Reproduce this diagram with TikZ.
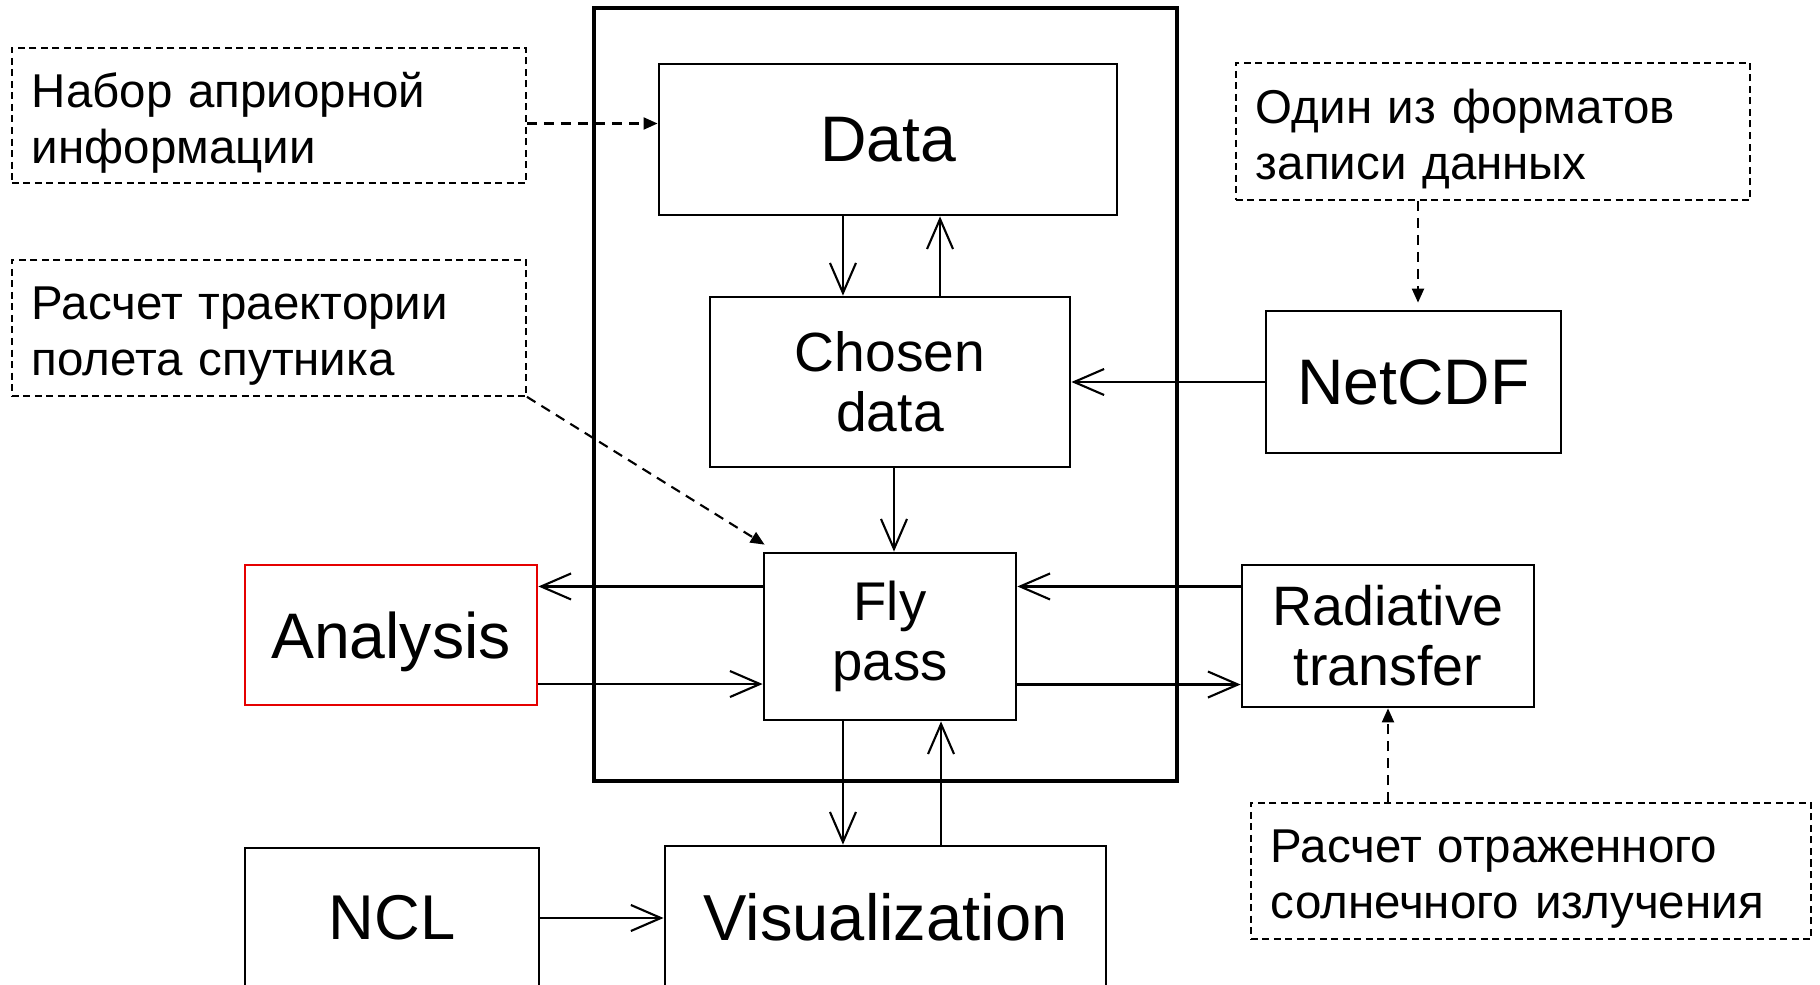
\documentclass[tikz,border=0pt]{standalone}
\usepackage{fontspec}
\setmainfont{Liberation Sans}
\usetikzlibrary{arrows.meta,positioning,calc}

\begin{document}
\begin{tikzpicture}[
  x=0.01cm, y=-0.01cm,
  >={Straight Barb[length=3mm,width=2.6mm]},
  blk/.style={rectangle, draw=black, line width=0.75pt, align=center, inner sep=0pt},
  redblk/.style={blk, draw=red!90!black},
  frame/.style={rectangle, draw=black, line width=1.1pt, inner sep=0pt},
  note/.style={rectangle, draw=black, line width=0.45pt, dash pattern=on 0.7mm off 0.45mm,
               align=left, inner xsep=0.2cm, inner ysep=0pt,
               font=\fontsize{13.5}{16}\selectfont,
               execute at begin node=\rule{0pt}{14pt}},
  edge/.style={->, draw=black, line width=0.6pt},
  nedge/.style={-{Triangle[length=1.4mm,width=1.2mm]}, draw=black, line width=0.6pt,
                dash pattern=on 1mm off 0.7mm},
]
\useasboundingbox (0,0) rectangle (1820,985);
\clip (0,0) rectangle (1820,985);

\node[frame, minimum width=5.83cm, minimum height=7.73cm] (frame) at (885.5,394.5) {};

\node[blk, minimum width=4.58cm, minimum height=1.51cm, font=\fontsize{18.3}{22}\selectfont]
  (data) at (888,139.5) {Data};
\node[blk, minimum width=3.6cm, minimum height=1.7cm, font=\fontsize{15.7}{17}\selectfont]
  (chosen) at (890,382) {Chosen\\data};
\node[blk, minimum width=2.95cm, minimum height=1.42cm, font=\fontsize{18.3}{22}\selectfont]
  (netcdf) at (1413.5,382) {NetCDF};
\node[blk, minimum width=2.52cm, minimum height=1.67cm, font=\fontsize{15.5}{17}\selectfont]
  (fly) at (890,636.5) {Fly\\pass};
\node[redblk, minimum width=2.92cm, minimum height=1.4cm, text depth=0pt,
  font=\fontsize{18.3}{22}\selectfont] (analysis) at (391,635) {Analysis};
\node[blk, minimum width=2.92cm, minimum height=1.42cm, font=\fontsize{15.8}{17}\selectfont]
  (radiative) at (1388,636) {Radiative\\transfer};
\node[blk, minimum width=2.94cm, minimum height=1.4cm, font=\fontsize{18}{22}\selectfont]
  (ncl) at (392,918) {NCL};
\node[blk, minimum width=4.41cm, minimum height=1.42cm, font=\fontsize{18.5}{22}\selectfont]
  (vis) at (885.5,917) {Visualization};

% notes
\node[note, text width=4.74cm, minimum height=1.35cm] (apriori) at (269,115.5)
  {Набор априорной\\информации};
\node[note, text width=4.74cm, minimum height=1.36cm] (orbit) at (269,328)
  {Расчет траектории\\полета спутника};
\node[note, text width=4.74cm, minimum height=1.37cm] (format) at (1493,131.5)
  {Один из форматов\\записи данных};
\node[note, text width=5.2cm, minimum height=1.36cm] (solar) at (1531,871)
  {Расчет отраженного\\солнечного излучения};

\draw[edge] ([xshift=-0.45cm]data.south) -- ([xshift=-0.45cm]data.south |- chosen.north);
\draw[edge] ([xshift=0.52cm]data.south |- chosen.north) -- ([xshift=0.52cm]data.south);
\draw[edge] (netcdf.west) -- (chosen.east);
\draw[edge] ([xshift=0.04cm]chosen.south) -- ([xshift=0.04cm]fly.north);

\draw[edge] ([yshift=0.5cm]fly.west) -- ([yshift=0.5cm]fly.west -| analysis.east);
\draw[edge] ([yshift=-0.49cm]analysis.east -| analysis.east) -- ([yshift=-0.49cm]fly.west |- analysis.east);
\draw[edge] ([yshift=0.5cm]fly.east -| radiative.west) -- ([yshift=0.5cm]fly.east);
\draw[edge] ([yshift=-0.48cm]fly.east) -- ([yshift=-0.48cm]fly.east -| radiative.west);

\draw[edge] ([xshift=-0.47cm]fly.south) -- ([xshift=-0.47cm]fly.south |- vis.north);
\draw[edge] ([xshift=0.51cm]fly.south |- vis.north) -- ([xshift=0.51cm]fly.south);
\draw[edge] (ncl.east) -- (ncl.east -| vis.west);

\draw[nedge] ([yshift=-0.08cm]apriori.east) -- ([yshift=-0.08cm]apriori.east -| data.west);
\draw[nedge] (orbit.south east) -- ([shift={(0.02cm,0.07cm)}]fly.north west);
\draw[nedge] ([xshift=0.045cm]format.south -| netcdf.north) -- ([shift={(0.045cm,0.07cm)}]netcdf.north);
\draw[nedge] (solar.north -| radiative.south) -- (radiative.south);
\end{tikzpicture}
\end{document}
